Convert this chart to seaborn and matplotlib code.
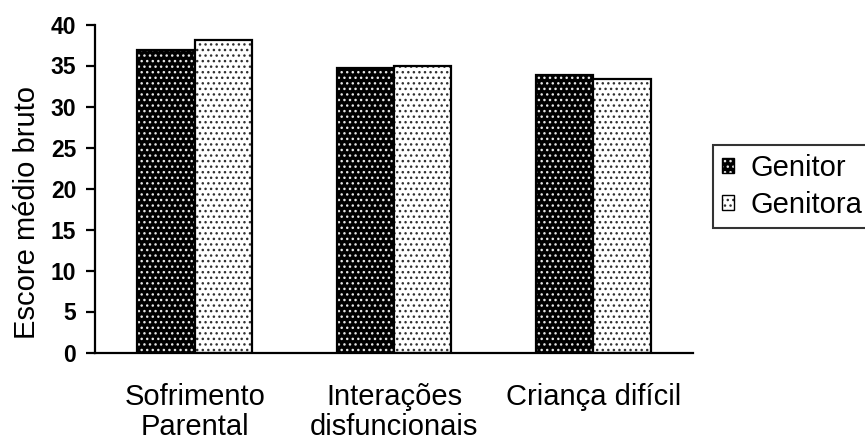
import matplotlib
matplotlib.use("Agg")
import matplotlib.pyplot as plt
from matplotlib.colors import to_rgba
from matplotlib.patches import Patch
import seaborn as sns
import pandas as pd

categories = ["Sofrimento\nParental", "Interações\ndisfuncionais", "Criança difícil"]
genitor = [36.9, 34.7, 33.9]
genitora = [38.1, 34.9, 33.4]
series = ["Genitor", "Genitora"]
yticks = [0, 5, 10, 15, 20, 25, 30, 35, 40]

df = pd.DataFrame({
    "categoria": categories * 2,
    "escore": genitor + genitora,
    "grupo": [series[0]] * 3 + [series[1]] * 3,
})

sns.set_theme(style="white")
plt.rcParams["font.family"] = ["Liberation Sans", "DejaVu Sans"]
plt.rcParams["hatch.linewidth"] = 1.0
for key in ("text.color", "axes.labelcolor", "xtick.color", "ytick.color"):
    plt.rcParams[key] = "black"

fig = plt.figure(figsize=(8.65, 4.43), dpi=100)
ax = fig.add_axes([95 / 865, 1 - 352.5 / 443, (693 - 95) / 865, (352.5 - 24.5) / 443])

faces = {"Genitor": "black", "Genitora": "white"}
dots = {"Genitor": "#e6e6e6", "Genitora": "#303030"}

sns.barplot(data=df, x="categoria", y="escore", hue="grupo", order=categories,
            hue_order=series, palette=faces, width=0.575, edgecolor="black",
            linewidth=1.6, ax=ax, legend=False)

# dotted fill: light dots on the dark bars, dark dots on the light bars
for container, name in zip(ax.containers, series):
    for bar in container:
        bar.set_hatch("...")
        bar._hatch_color = to_rgba(dots[name])

ax.set_xlim(-0.5, 2.5)
ax.set_ylim(0, 40)
ax.set_yticks(yticks)
ax.set_yticklabels([str(v) for v in yticks], fontsize=16.5, fontweight="bold")
ax.set_xticks(range(3))
ax.set_xticklabels(categories, fontsize=21, linespacing=1.1)
ax.set_xticks([-0.5, 0.5, 1.5, 2.5], minor=True)
ax.tick_params(axis="x", which="major", length=0, pad=22)
ax.tick_params(axis="x", which="minor", length=6.5, width=1.6, direction="out", color="black")
ax.tick_params(axis="y", length=6.5, width=1.6, direction="out", color="black", pad=7, left=True)

ax.set_xlabel("")
ax.set_ylabel("Escore médio bruto", fontsize=21)
ax.yaxis.set_label_coords(-0.09, 0.428)

for side in ("top", "right"):
    ax.spines[side].set_visible(False)
for side in ("left", "bottom"):
    ax.spines[side].set_color("black")
    ax.spines[side].set_linewidth(1.6)

handles = []
for name in series:
    h = Patch(facecolor=faces[name], edgecolor="black", hatch="...", linewidth=1.0)
    handles.append(h)
leg = fig.legend(handles=handles, labels=series, loc="upper left",
                 bbox_to_anchor=(713 / 865, 1 - 145 / 443), fontsize=21,
                 frameon=True, fancybox=False, handlelength=0.42, handleheight=0.42,
                 handletextpad=0.55, borderpad=0.3, labelspacing=0.32,
                 borderaxespad=0)
leg.get_frame().set_edgecolor("black")
leg.get_frame().set_linewidth(1.5)
for h, name in zip(leg.legend_handles, series):
    h._hatch_color = to_rgba(dots[name])

fig.savefig("out.png", dpi=100)
